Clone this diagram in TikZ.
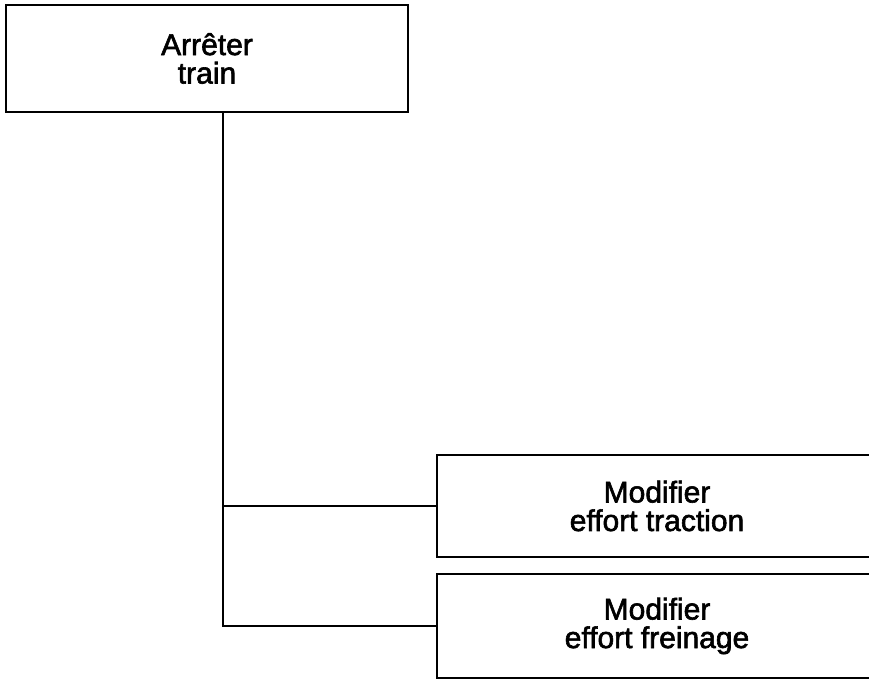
\documentclass[tikz,border=0pt]{standalone}
\usepackage{fontspec}
\setmainfont{Liberation Sans}[FakeBold=2]
\begin{document}
\begin{tikzpicture}[x=1pt,y=-1pt,
  box/.style={draw, line width=2.5pt, rectangle, align=center, inner sep=0pt,
    font=\fontsize{30}{28.5}\selectfont},
  conn/.style={line width=2.5pt}]
\useasboundingbox (0,0) rectangle (869,680);
\clip (0,0) rectangle (869,680);
\node[box, minimum width=402pt, minimum height=107pt] (top) at (207,58.5) {Arrêter\\train};
\node[box, minimum width=440pt, minimum height=102pt] (b1) at (657,506) {Modifier\\effort traction};
\node[box, minimum width=440pt, minimum height=104pt] (b2) at (657,626) {Modifier\\effort freinage};
\coordinate (j) at (223,628);
\draw[conn] (top.south -| j) -- (j |- b2.west) -- (b2.west);
\draw[conn] (j |- b1.west) -- (b1.west);
\end{tikzpicture}
\end{document}
